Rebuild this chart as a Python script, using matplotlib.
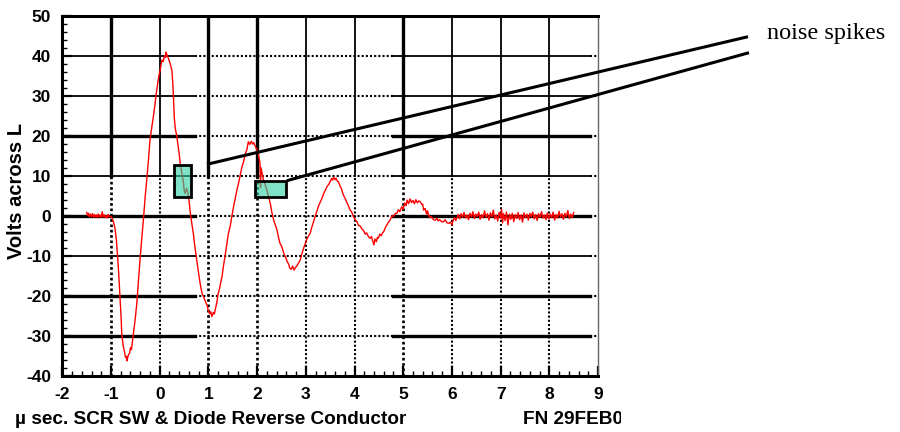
import matplotlib
matplotlib.use("Agg")
import matplotlib.pyplot as plt
from matplotlib.patches import Rectangle
from matplotlib.ticker import MultipleLocator
from matplotlib.transforms import Bbox

plt.rcParams["font.family"] = ["Liberation Sans", "DejaVu Sans"]
plt.rcParams["axes.unicode_minus"] = False

# scope trace, volts across L vs microseconds
lead_t = [-1.50, -1.48, -1.46, -1.44, -1.42, -1.40, -1.38, -1.36, -1.34, -1.32,
          -1.30, -1.28, -1.26, -1.24, -1.22, -1.20, -1.18, -1.16, -1.14, -1.12,
          -1.10, -1.08, -1.06, -1.04, -1.02, -1.00]
lead_v = [0.8, 0.0, 0.6, -0.3, 0.4, -0.2, 0.5, -0.4, 0.3, -0.3,
          0.2, -0.5, 0.4, -0.2, 0.1, -0.4, 1.0, -0.3, 0.2, -0.4,
          0.0, -0.5, 0.3, -0.3, -0.1, -0.2]

ring_t = [-0.97, -0.95, -0.92, -0.89, -0.87, -0.85, -0.83, -0.81, -0.79, -0.78,
          -0.75, -0.73, -0.70, -0.68, -0.67, -0.65, -0.62, -0.60, -0.58, -0.56,
          -0.54, -0.50, -0.47, -0.44, -0.40, -0.37, -0.33, -0.30, -0.26, -0.23,
          -0.20, -0.17, -0.14, -0.10, -0.07, -0.04, -0.02, 0.01, 0.045, 0.07,
          0.10, 0.12, 0.13, 0.15, 0.18, 0.21, 0.25, 0.27, 0.285, 0.30,
          0.32, 0.35, 0.37, 0.40, 0.42, 0.45, 0.49, 0.50, 0.52, 0.55,
          0.57, 0.60, 0.63, 0.66, 0.69, 0.72, 0.76, 0.80, 0.83, 0.87,
          0.90, 0.94, 0.97, 1.00, 1.03, 1.05, 1.07, 1.10, 1.12, 1.15,
          1.17, 1.20, 1.23, 1.26, 1.28, 1.31, 1.34, 1.38, 1.41, 1.45,
          1.48, 1.52, 1.55, 1.585, 1.62, 1.66, 1.69, 1.72, 1.76, 1.79,
          1.82, 1.85, 1.88, 1.91, 1.93, 1.96, 2.00, 2.03, 2.06, 2.07,
          2.08, 2.11, 2.13, 2.16, 2.20, 2.23, 2.27, 2.30, 2.34, 2.37,
          2.41, 2.44, 2.47, 2.51, 2.55, 2.58, 2.62, 2.65, 2.67, 2.70,
          2.73, 2.76, 2.78, 2.82, 2.85, 2.885, 2.92, 2.95, 2.99, 3.02,
          3.06, 3.09, 3.12, 3.16, 3.19, 3.23, 3.26, 3.30, 3.33, 3.37,
          3.40, 3.44, 3.47, 3.50, 3.53, 3.55, 3.57, 3.60, 3.62, 3.65,
          3.67, 3.70, 3.73, 3.77, 3.80, 3.84, 3.87, 3.91, 3.94, 3.98,
          4.01, 4.05, 4.08, 4.12, 4.15, 4.18, 4.22, 4.25, 4.29, 4.32,
          4.35, 4.37, 4.40, 4.42, 4.45, 4.47, 4.49, 4.52, 4.55, 4.58,
          4.60, 4.64, 4.67, 4.70, 4.73, 4.77, 4.80, 4.84, 4.87, 4.90,
          4.93, 4.97, 5.00, 5.03, 5.06, 5.08, 5.11, 5.14, 5.17, 5.20,
          5.23, 5.26, 5.29, 5.32, 5.35, 5.38, 5.40, 5.42, 5.45, 5.48,
          5.50, 5.52, 5.55, 5.58, 5.62, 5.66, 5.69, 5.72, 5.75, 5.79,
          5.83, 5.86, 5.90, 5.94, 5.97, 6.00, 6.02, 6.05, 6.08, 6.10]
ring_v = [-0.8, -1.5, -3.0, -6.0, -9.5, -12.7, -17.0, -21.0, -26.0, -29.4,
          -32.5, -33.6, -35.5, -35.2, -36.3, -35.0, -34.4, -33.0, -33.5, -31.5,
          -29.4, -25.5, -21.9, -17.0, -10.3, -6.0, -0.25, 4.5, 9.75, 14.0,
          18.9, 21.5, 23.9, 27.5, 30.6, 33.0, 34.75, 36.5, 38.9, 38.5,
          40.0, 39.6, 40.9, 40.1, 39.3, 38.2, 36.4, 33.0, 28.9, 24.5,
          21.8, 20.0, 18.1, 15.5, 13.1, 11.0, 8.1, 6.5, 5.6, 6.8,
          6.2, 4.0, 0.6, -2.0, -4.4, -7.5, -11.1, -14.5, -16.9, -19.5,
          -20.25, -21.5, -22.3, -23.8, -24.5, -24.0, -25.25, -24.2, -24.6, -23.0,
          -21.9, -19.5, -18.2, -16.2, -15.25, -12.5, -10.25, -7.0, -4.5, -2.5,
          -0.25, 2.5, 4.2, 6.4, 8.2, 10.5, 12.25, 13.4, 15.6, 16.5,
          18.5, 17.8, 18.6, 17.9, 18.3, 17.4, 16.4, 15.0, 13.1, 7.0,
          12.0, 10.2, 8.9, 8.0, 6.4, 5.0, 3.1, 1.0, -1.1, -2.2,
          -3.6, -5.5, -6.9, -7.8, -9.5, -10.25, -11.5, -12.2, -13.1, -13.4,
          -12.6, -13.6, -13.1, -12.5, -11.8, -11.1, -9.5, -8.3, -6.9, -5.9,
          -5.0, -4.4, -3.0, -1.5, -0.25, 1.2, 2.4, 3.5, 4.3, 5.6,
          6.4, 7.4, 7.8, 8.5, 9.3, 8.9, 9.6, 9.0, 9.4, 8.6,
          8.5, 7.5, 6.8, 5.2, 4.5, 3.4, 2.6, 1.4, 1.0, -0.3,
          -0.9, -1.5, -2.4, -2.6, -3.3, -3.6, -4.6, -4.3, -5.3, -5.65,
          -5.2, -6.2, -7.3, -5.8, -6.5, -5.4, -5.65, -4.6, -5.0, -4.2,
          -4.0, -2.8, -2.2, -1.6, -1.1, 0.0, -0.2, 0.6, 0.6, 1.5,
          1.0, 2.25, 1.6, 3.2, 2.5, 3.9, 3.0, 4.2, 3.3, 3.8,
          3.0, 4.0, 3.2, 3.7, 3.5, 2.8, 2.9, 1.4, 1.8, 0.4,
          1.2, 0.2, -0.5, -0.2, -1.0, -1.1, -0.6, -1.3, -1.0, -1.5,
          -1.5, -1.0, -1.8, -1.9, -1.6, -2.3, -1.4, -0.5, -1.2, -0.65]

tail_t = [6.13, 6.16, 6.19, 6.22, 6.25, 6.28, 6.31, 6.34, 6.37, 6.40,
          6.43, 6.46, 6.49, 6.52, 6.55, 6.58, 6.61, 6.64, 6.67, 6.70,
          6.73, 6.76, 6.79, 6.82, 6.85, 6.88, 6.91, 6.94, 6.97, 7.00,
          7.02, 7.04, 7.06, 7.09, 7.12, 7.15, 7.18, 7.21, 7.24, 7.27,
          7.30, 7.33, 7.36, 7.39, 7.42, 7.45, 7.48, 7.51, 7.54, 7.57,
          7.60, 7.63, 7.66, 7.69, 7.72, 7.75, 7.78, 7.81, 7.84, 7.87,
          7.90, 7.93, 7.96, 7.99, 8.02, 8.05, 8.08, 8.11, 8.14, 8.17,
          8.20, 8.23, 8.26, 8.29, 8.32, 8.35, 8.38, 8.41, 8.44, 8.47, 8.50]
tail_v = [0.3, -0.8, 0.5, -0.4, 0.8, -0.6, 0.2, -1.0, 0.6, -0.3,
          1.0, -0.7, 0.4, -0.2, 0.9, -0.9, 0.3, -0.5, 1.2, -0.4,
          0.5, -1.1, 0.7, -0.3, 1.4, -0.8, 0.2, -1.3, 0.8, -0.6,
          1.6, -1.8, 0.5, -1.2, 0.9, -2.3, 0.4, -0.9, 0.6, -1.5,
          0.3, -0.7, 0.8, -1.0, 0.2, -1.6, 0.7, -0.5, 0.4, -1.1,
          0.6, -0.3, 0.9, -0.8, 0.3, -1.2, 0.5, -0.4, 1.0, -0.6,
          0.2, -1.0, 0.7, -0.8, 0.4, -0.5, 0.9, -1.1, 0.3, -0.6,
          1.1, -0.4, 0.5, -0.9, 0.6, -0.3, 1.3, -0.7, 0.4, -0.5, 0.8]

x_ticks = [-2, -1, 0, 1, 2, 3, 4, 5, 6, 7, 8, 9]
y_ticks = [-40, -30, -20, -10, 0, 10, 20, 30, 40, 50]

# grid: which lines are drawn heavy
heavy_x = [-1, 1, 2, 5]
light_x = [0, 3, 4, 6, 7, 8]
heavy_y = [20, 0, -20, -30]
light_y = [40, 30, 10, -10]

# highlighted noise spikes (x0, x1, y0, y1)
spike_boxes = [(0.29, 0.64, 4.7, 12.6), (1.95, 2.60, 4.6, 8.7)]
# callout lines (start, end) in data units
callouts = [((0.97, 12.85), (12.08, 44.75)), ((2.61, 8.75), (12.1, 40.75))]

fig = plt.figure(figsize=(9, 4.32), dpi=100)
ax = fig.add_axes([62.3 / 900, 56.3 / 432, 535.7 / 900, 360 / 432])
ax.set_xlim(-2, 9)
ax.set_ylim(-40, 50)

dot = (0, (1, 1))
split_lo, split_hi, split_end = 0.73, 4.79, 8.84
for y, lw in [(v, 2.4) for v in heavy_y] + [(v, 1.3) for v in light_y]:
    ax.plot([-2, split_lo], [y, y], color="black", lw=lw, zorder=1)
    ax.plot([split_lo, split_hi], [y, y], color="black", lw=1.5, ls=dot, zorder=1)
    ax.plot([split_hi, split_end], [y, y], color="black", lw=lw, zorder=1)
    ax.plot([split_end, 9], [y, y], color="black", lw=1.5, ls=dot, zorder=1)
for x, lw in [(v, 2.4) for v in heavy_x] + [(v, 1.3) for v in light_x]:
    ax.plot([x, x], [10, 50], color="black", lw=lw, zorder=1)
    ax.plot([x, x], [-40, 10], color="black", lw=max(lw * 0.8, 1.5), ls=dot, zorder=1)

ax.plot(lead_t + ring_t + tail_t, lead_v + ring_v + tail_v, color="#ff0000", lw=1.0, zorder=3)

for x0, x1, y0, y1 in spike_boxes:
    ax.add_patch(Rectangle((x0, y0), x1 - x0, y1 - y0,
                           facecolor=(43 / 255, 207 / 255, 163 / 255, 0.6),
                           edgecolor="black", lw=2.0, zorder=4))

for (xa, ya), (xb, yb) in callouts:
    ax.plot([xa, xb], [ya, yb], color="black", lw=2.2, clip_on=False, zorder=5,
            solid_capstyle="butt")

ax.xaxis.set_minor_locator(MultipleLocator(0.2))
ax.yaxis.set_minor_locator(MultipleLocator(2))
ax.set_xticks(x_ticks)
ax.set_yticks(y_ticks)
ax.tick_params(which="major", direction="in", length=7, width=1.6, pad=8,
               labelsize=12.5, top=False, right=False)
ax.tick_params(which="minor", direction="in", length=3.5, width=1.0,
               top=False, right=False)
for lab in ax.get_xticklabels() + ax.get_yticklabels():
    lab.set_fontweight("bold")

for side in ["left", "bottom", "top"]:
    ax.spines[side].set_linewidth(2.2)
ax.spines["right"].set_linewidth(1.0)
ax.spines["right"].set_color("#666666")

fig.text(17 / 900, 1 - 191 / 432, "Volts across L", rotation=90, ha="center",
         va="center", fontsize=14.5, fontweight="bold")
fig.text(15 / 900, 1 - 419 / 432, "\u00b5 sec. SCR SW & Diode Reverse Conductor",
         ha="left", va="center", fontsize=13.7, fontweight="bold")
fn = fig.text(523 / 900, 1 - 419 / 432, "FN 29FEB00", ha="left", va="center",
              fontsize=13.7, fontweight="bold")
fn.set_clip_box(Bbox([[0, 0], [621, 432]]))
fn.set_clip_on(True)

fig.text(767 / 900, 1 - 33 / 432, "noise spikes", ha="left", va="center",
         fontsize=17.5, family=["Liberation Serif", "DejaVu Serif"])

fig.savefig("out.png", dpi=100)
